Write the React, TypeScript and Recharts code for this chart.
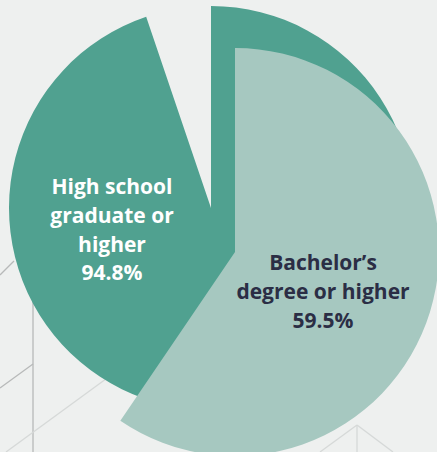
import React from "react";
import { PieChart, Pie, Cell } from "recharts";

// Share of adults by educational attainment
const attainmentLabels = ["High school graduate or higher", "Bachelor's degree or higher"];
const attainmentValues = [94.8, 59.5];

const highSchoolData = [
  { name: attainmentLabels[0], value: attainmentValues[0] },
  { name: "rest", value: 100 - attainmentValues[0] },
];
const bachelorData = [
  { name: attainmentLabels[1], value: attainmentValues[1] },
  { name: "rest", value: 100 - attainmentValues[1] },
];

const highSchoolLines = ["High school", "graduate or", "higher"];
const bachelorLines = ["Bachelor\u2019s", "degree or higher"];

const W = 437;
const H = 452;
const DARK = "#50a190";
const LIGHT = "#a6c8c0";
const FONT = "'Open Sans', Lato, sans-serif";

function Background() {
  return (
    <svg width={W} height={H} style={{ position: "absolute", left: 0, top: 0 }}>
      <rect width={W} height={H} fill="#eef0ef" />
      <g fill="none" strokeWidth={1.3}>
        <line x1={33} y1={300} x2={33} y2={H} stroke="#b7b9b9" />
        <line x1={0} y1={275} x2={14} y2={261} stroke="#b7b9b9" />
        <line x1={0} y1={388} x2={33} y2={364} stroke="#b7b9b9" />
        <line x1={6} y1={H} x2={110} y2={376} stroke="#d6d9d8" />
        <line x1={320} y1={H} x2={357} y2={425} stroke="#d6d9d8" />
        <line x1={357} y1={425} x2={393} y2={H} stroke="#d6d9d8" />
        <line x1={357} y1={425} x2={357} y2={H} stroke="#d6d9d8" />
      </g>
    </svg>
  );
}

function HighSchoolLabel(props: any) {
  if (props.index !== 0) return null;
  const x = props.cx - 99;
  const y0 = props.cy - 14;
  return (
    <text x={x} textAnchor="middle" fill="#ffffff" fontFamily={FONT} fontWeight={700} fontSize={21}>
      {highSchoolLines.map((l, i) => (
        <tspan key={i} x={x} y={y0 + i * 29}>{l}</tspan>
      ))}
      <tspan x={x} y={y0 + 3 * 29 - 1}>{`${attainmentValues[0]}%`}</tspan>
    </text>
  );
}

function BachelorLabel(props: any) {
  if (props.index !== 0) return null;
  const x = props.cx + 88;
  const y0 = props.cy + 18;
  return (
    <text x={x} textAnchor="middle" fill="#2b2e45" fontFamily={FONT} fontWeight={700} fontSize={21}>
      {bachelorLines.map((l, i) => (
        <tspan key={i} x={x} y={y0 + i * 29}>{l}</tspan>
      ))}
      <tspan x={x} y={y0 + 2 * 29}>{`${attainmentValues[1]}%`}</tspan>
    </text>
  );
}

export default function App() {
  return (
    <div style={{ position: "absolute", left: 0, top: 0, width: W, height: H, overflow: "hidden" }}>
      <Background />
      <div style={{ position: "absolute", left: 0, top: 0 }}>
        <PieChart width={W} height={H} margin={{ top: 0, right: 0, bottom: 0, left: 0 }}>
          <Pie
            data={highSchoolData}
            dataKey="value"
            cx={211}
            cy={208}
            outerRadius={202}
            startAngle={90}
            endAngle={-270}
            stroke="none"
            isAnimationActive={false}
            label={HighSchoolLabel}
            labelLine={false}
          >
            <Cell fill={DARK} />
            <Cell fill="transparent" />
          </Pie>
          <Pie
            data={bachelorData}
            dataKey="value"
            cx={235}
            cy={252}
            outerRadius={204}
            startAngle={90}
            endAngle={-270}
            stroke="none"
            isAnimationActive={false}
            label={BachelorLabel}
            labelLine={false}
          >
            <Cell fill={LIGHT} />
            <Cell fill="transparent" />
          </Pie>
        </PieChart>
      </div>
    </div>
  );
}
